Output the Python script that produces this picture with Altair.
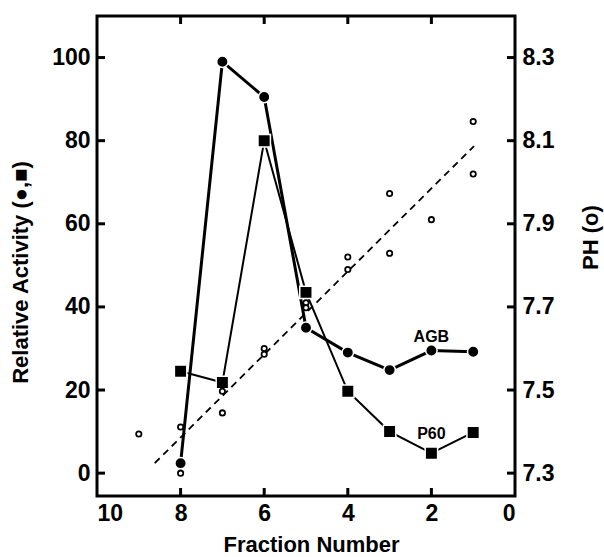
import altair as alt
import pandas as pd

# ---- data ----
fraction = [8, 7, 6, 5, 4, 3, 2, 1]
agb_activity = [2.4, 99.0, 90.5, 35.0, 29.0, 24.8, 29.5, 29.2]
p60_activity = [24.5, 21.8, 80.0, 43.5, 19.7, 10.0, 4.8, 9.8]

ph_fraction = [9, 8, 8, 7, 7, 6, 6, 5, 5, 4, 4, 3, 3, 2, 1, 1]
ph_value = [7.394, 7.411, 7.300, 7.497, 7.445, 7.600, 7.586, 7.710, 7.698,
            7.820, 7.790, 7.973, 7.829, 7.910, 8.146, 8.020]

fit_fraction = [8.62, 0.98]
fit_ph = [7.324, 8.087]

label_text = ["AGB", "P60"]
label_fraction = [2, 2]
label_activity = [32.8, 9.4]

x_tick_labels = [10, 8, 6, 4, 2, 0]
x_tick_marks = [8, 6, 4, 2]
left_ticks = [0, 20, 40, 60, 80, 100]
right_ticks = [7.3, 7.5, 7.7, 7.9, 8.1, 8.3]

W, H = 418, 480
FONT = "Liberation Sans"

agb_df = pd.DataFrame({"fraction": fraction, "activity": agb_activity})
p60_df = pd.DataFrame({"fraction": fraction, "activity": p60_activity})
ph_df = pd.DataFrame({"fraction": ph_fraction, "ph": ph_value})
fit_df = pd.DataFrame({"fraction": fit_fraction, "ph": fit_ph})
lab_df = pd.DataFrame({"fraction": label_fraction, "activity": label_activity, "text": label_text})
lt_df = pd.DataFrame({"activity": left_ticks})
rt_df = pd.DataFrame({"ph": right_ticks})
xt_df = pd.DataFrame({"fraction": x_tick_marks})

xs = alt.Scale(domain=[0, 10], reverse=True, nice=False, zero=False)
ys = alt.Scale(domain=[-5.5, 110], nice=False, zero=False)
yr = alt.Scale(domain=[7.245, 8.400], nice=False, zero=False)

xaxis = alt.Axis(values=x_tick_labels, format="d", tickSize=0, domain=False, grid=False,
                 labelFontSize=23, labelFontWeight="bold", labelPadding=6, labelColor="black",
                 title="Fraction Number", titleFontSize=22, titleFontWeight="bold",
                 titleColor="black", titleX=214, titleY=48, titleBaseline="middle",
                 titleAlign="center")
yaxis = alt.Axis(values=left_ticks, format="d", tickSize=0, domain=False, grid=False,
                 labelFontSize=23, labelFontWeight="bold", labelPadding=7, labelColor="black",
                 title="Relative Activity (●,■)", titleFontSize=22, titleFontWeight="bold",
                 titleColor="black", titleX=-77, titleY=256, titleAngle=270,
                 titleAlign="center", titleBaseline="middle")
raxis = alt.Axis(orient="right", values=right_ticks, format=".1f", tickSize=0, domain=False,
                 grid=False, labelFontSize=23, labelFontWeight="bold", labelPadding=7,
                 labelColor="black", title="PH (o)", titleFontSize=22, titleFontWeight="bold",
                 titleColor="black", titleX=75, titleY=221, titleAngle=270,
                 titleAlign="center", titleBaseline="middle")

X = alt.X("fraction:Q", scale=xs, axis=xaxis)
Y = alt.Y("activity:Q", scale=ys, axis=yaxis)
YR = alt.Y("ph:Q", scale=yr, axis=raxis)

agb_line = alt.Chart(agb_df).mark_line(color="black", strokeWidth=3).encode(x=X, y=Y)
agb_pts = alt.Chart(agb_df).mark_point(shape="circle", filled=True, fill="black",
                                       stroke="white", strokeWidth=1.5, size=130,
                                       opacity=1).encode(x=X, y=Y)
p60_line = alt.Chart(p60_df).mark_line(color="black", strokeWidth=2).encode(x=X, y=Y)
p60_pts = alt.Chart(p60_df).mark_point(shape="square", filled=True, fill="black",
                                       stroke="white", strokeWidth=1.5, size=155,
                                       opacity=1).encode(x=X, y=Y)
labels = alt.Chart(lab_df).mark_text(font=FONT, fontSize=16, fontWeight="bold",
                                     color="black", baseline="middle").encode(x=X, y=Y, text="text:N")
left_tk = alt.Chart(lt_df).mark_rule(color="black", strokeWidth=3).encode(
    y=Y, x=alt.value(0), x2=alt.value(8))
top_tk = alt.Chart(xt_df).mark_rule(color="black", strokeWidth=3).encode(
    x=X, y=alt.value(0), y2=alt.value(8))
bot_tk = alt.Chart(xt_df).mark_rule(color="black", strokeWidth=3).encode(
    x=X, y=alt.value(H), y2=alt.value(H - 8))

left = alt.layer(left_tk, top_tk, bot_tk, agb_line, p60_line, agb_pts, p60_pts, labels)

fit_line = alt.Chart(fit_df).mark_line(color="black", strokeWidth=1.8,
                                       strokeDash=[7, 5]).encode(x=X, y=YR)
ph_pts = alt.Chart(ph_df).mark_point(shape="circle", filled=True, fill="white",
                                     stroke="black", strokeWidth=1.8, size=28,
                                     opacity=1).encode(x=X, y=YR)
right_tk = alt.Chart(rt_df).mark_rule(color="black", strokeWidth=3).encode(
    y=YR, x=alt.value(W), x2=alt.value(W - 8))

right = alt.layer(right_tk, fit_line, ph_pts)

chart = alt.layer(left, right).resolve_scale(y="independent").properties(
    width=W, height=H,
    padding={"left": 97, "top": 16, "right": 89, "bottom": 61},
    autosize=alt.AutoSizeParams(type="none"),
).configure(font=FONT).configure_view(stroke="black", strokeWidth=3)

chart.save("out.html", embed_options={"renderer": "svg", "actions": False})
